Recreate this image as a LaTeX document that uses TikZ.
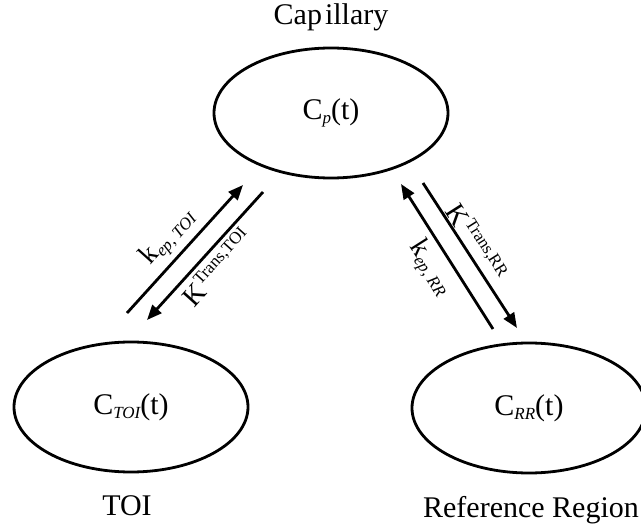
\documentclass[tikz,border=0pt]{standalone}
\usepackage{fontspec}
\setmainfont{Liberation Serif}
\usetikzlibrary{arrows.meta,shapes.geometric}
\newcommand\mysub[1]{\raisebox{-4pt}{\fontsize{17}{17}\selectfont\itshape #1}}
\newcommand\mysup[1]{\raisebox{11pt}{\fontsize{17}{17}\selectfont #1}}
\begin{document}
\begin{tikzpicture}[x=1pt,y=-1pt,
  comp/.style={draw, ellipse, line width=2.8pt, minimum width=234pt, minimum height=130pt, inner sep=0pt, font=\fontsize{30}{36}\selectfont},
  title/.style={anchor=base, font=\fontsize{30}{36}\selectfont, inner sep=0pt},
  flow/.style={line width=2.8pt, -{Triangle[length=15pt,width=12pt]}},
  rate/.style={font=\fontsize{28}{32}\selectfont, inner sep=0pt}]
\useasboundingbox (0,0) rectangle (641,527);
% compartments
\node[comp] (cp) at (331,113) {C\mysub{p}(t)};
\node[comp] (toi) at (131,407) {C\mysub{TOI}(t)};
\node[comp] (rr) at (529,408) {C\mysub{RR}(t)};
% titles
\node[title] (tcap) at (331,25) {Cap\kern3pt illary};
\node[title] (ttoi) at (127,515) {TOI};
\node[title] (trr) at (531,517) {Reference Region};
% arrow end points
\coordinate (a1s) at (127,313);
\coordinate (a1e) at (243,185);
\coordinate (a2s) at (263,192);
\coordinate (a2e) at (147,320);
\coordinate (b1s) at (493,329);
\coordinate (b1e) at (401,184);
\coordinate (b2s) at (423,183);
\coordinate (b2e) at (517,328);
\draw[flow] (a1s) -- (a1e);
\draw[flow] (a2s) -- (a2e);
\draw[flow] (b1s) -- (b1e);
\draw[flow] (b2s) -- (b2e);
% rate labels
\node[rate, rotate=48] (kep1) at (168,237) {k\mysub{ep, TOI}};
\node[rate, rotate=48] (ktr1) at (217,267) {K\mysup{Trans,TOI}};
\node[rate, rotate=-57.6] (ktr2) at (477,242) {K\mysup{Trans,RR}};
\node[rate, rotate=-57.6] (kep2) at (430,268) {k\mysub{ep, RR}};
\end{tikzpicture}
\end{document}
